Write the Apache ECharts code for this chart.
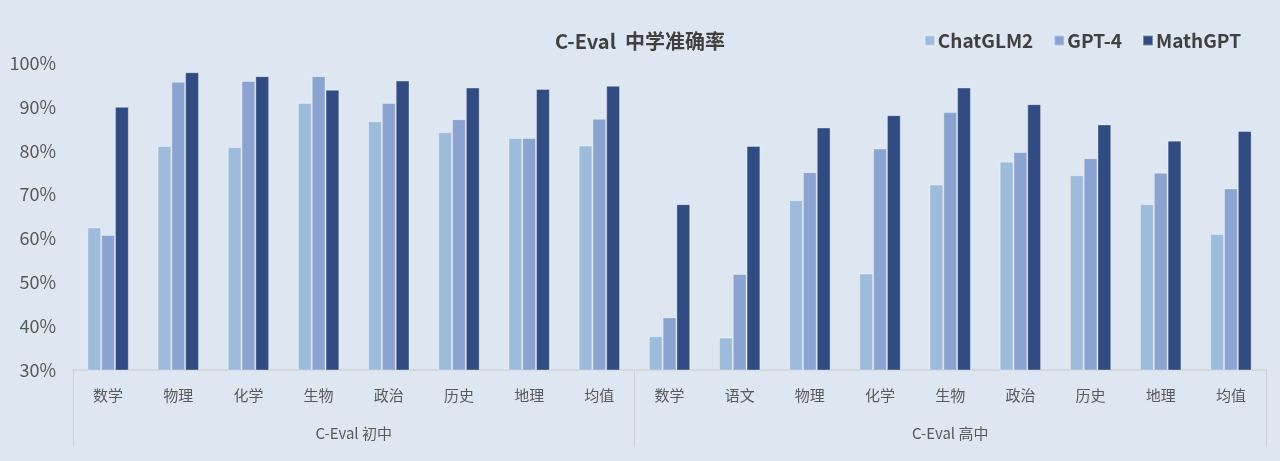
<!DOCTYPE html>
<html>
<head>
<meta charset="utf-8">
<script src="https://cdn.jsdelivr.net/npm/echarts@6/dist/echarts.min.js"></script>
<style>
html,body{margin:0;padding:0;background:#dee7f1;}
#c{width:1280px;height:461px;}
</style>
</head>
<body>
<div id="c"></div>
<script>
const categories = ['数学','物理','化学','生物','政治','历史','地理','均值','数学','语文','物理','化学','生物','政治','历史','地理','均值'];
const groups = ['C-Eval 初中','C-Eval 高中'];
const groupSizes = [8, 9];
const seriesNames = ['ChatGLM2','GPT-4','MathGPT'];
const chatglm2 = [62.5, 81.1, 80.8, 90.9, 86.7, 84.2, 82.9, 81.2, 37.7, 37.4, 68.7, 52.0, 72.3, 77.5, 74.4, 67.8, 61.0];
const gpt4     = [60.8, 95.7, 95.9, 97.0, 90.9, 87.2, 82.9, 87.3, 42.0, 51.9, 75.1, 80.5, 88.8, 79.7, 78.3, 75.0, 71.4];
const mathgpt  = [90.0, 97.9, 97.0, 93.9, 96.0, 94.4, 94.1, 94.8, 67.8, 81.1, 85.3, 88.1, 94.4, 90.6, 86.0, 82.3, 84.5];
const yTicks = {min: 30, max: 100, interval: 10};

// half-category grid for the group axis (boundaryGap false): 2*N+1 points
const halfCount = 2 * categories.length + 1;
const groupData = new Array(halfCount).fill('');
const tickIdx = new Set([0]);
const labelIdx = new Set();
let start = 0;
groupSizes.forEach((s, g) => {
  const center = 2 * start + s;       // center of group in half-units
  groupData[center] = groups[g];
  labelIdx.add(center);
  start += s;
  tickIdx.add(2 * start);
});

const colors = ['#9dbbdb', '#8ba3d1', '#304c83'];
const font = '"Noto Sans CJK SC", "Noto Sans", sans-serif';
const chart = echarts.init(document.getElementById('c'));
const datas = [chatglm2, gpt4, mathgpt];
chart.setOption({
  backgroundColor: '#dee7f1',
  animation: false,
  title: {
    text: 'C-Eval  中学准确率',
    left: 'center', top: 26,
    textStyle: {fontFamily: font, fontSize: 20, fontWeight: 'bold', color: '#404040'}
  },
  legend: {
    data: seriesNames,
    right: 34, top: 26,
    itemWidth: 10, itemHeight: 10, itemGap: 20,
    icon: 'rect',
    textStyle: {fontFamily: font, fontSize: 19, fontWeight: 'bold', color: '#404040', padding: [0,0,0,-2]}
  },
  grid: {left: 73, right: 14, top: 63, bottom: 91, containLabel: false},
  xAxis: [
    {
      type: 'category', data: categories, position: 'bottom',
      axisLine: {show: true, lineStyle: {color: '#cfd3d8', width: 1.5}},
      axisTick: {show: false},
      axisLabel: {fontFamily: font, fontSize: 15, color: '#595959', margin: 18, interval: 0}
    },
    {
      type: 'category', data: groupData, position: 'bottom', gridIndex: 0,
      boundaryGap: false,
      axisLine: {show: false},
      axisTick: {show: true, length: 77, interval: (i) => tickIdx.has(i), lineStyle: {color: '#cfd3d8', width: 1}},
      axisLabel: {fontFamily: font, fontSize: 15, color: '#595959', margin: 56, interval: (i) => labelIdx.has(i)}
    }
  ],
  yAxis: {
    type: 'value', min: yTicks.min, max: yTicks.max, interval: yTicks.interval,
    splitLine: {show: false},
    axisLine: {show: false}, axisTick: {show: false},
    axisLabel: {fontFamily: font, fontSize: 18, color: '#595959', margin: 17, formatter: v => v + '%'}
  },
  series: seriesNames.map((n, i) => ({
    name: n, type: 'bar', xAxisIndex: 0, data: datas[i],
    barGap: '0%', barCategoryGap: '41%',
    itemStyle: {color: colors[i], borderColor: 'rgba(255,255,255,0.35)', borderWidth: 1}
  }))
});
</script>
</body>
</html>
